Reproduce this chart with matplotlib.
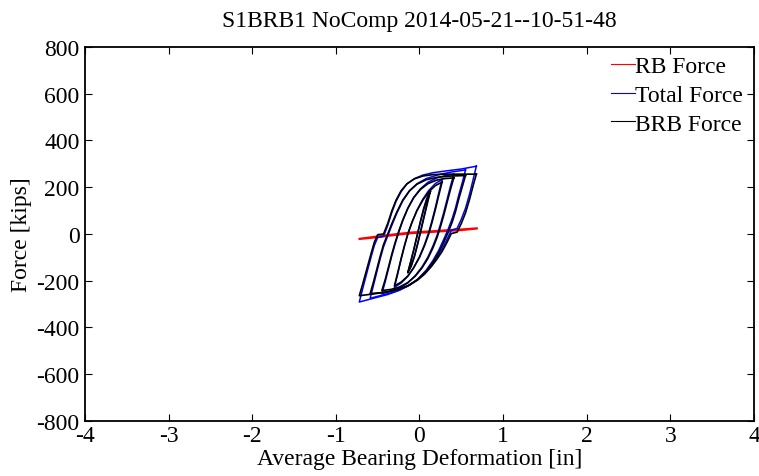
import matplotlib
matplotlib.use("Agg")
import matplotlib.pyplot as plt

plt.rcParams["font.family"] = ["Liberation Serif", "DejaVu Serif"]
plt.rcParams["axes.unicode_minus"] = False

# hysteresis cycles, one list per cycle (deformation in inches, force in kips)
loop_defl = [
    [0.13, 0.10, 0.06, 0.02, -0.02, -0.06, -0.10, -0.14,
     -0.11, -0.07, -0.03, 0.01, 0.05, 0.09, 0.13],
    [0.27, 0.23, 0.19, 0.15, 0.11, 0.06, 0.00, -0.07, -0.14, -0.22, -0.30,
     -0.26, -0.22, -0.18, -0.14, -0.09, -0.03, 0.04, 0.11, 0.19, 0.27],
    [0.41, 0.37, 0.33, 0.29, 0.25, 0.21, 0.16, 0.10, 0.03, -0.05, -0.14, -0.24, -0.34, -0.45,
     -0.41, -0.37, -0.33, -0.29, -0.25, -0.20, -0.14, -0.07, 0.01, 0.10, 0.20, 0.30, 0.41],
    [0.55, 0.51, 0.47, 0.43, 0.39, 0.34, 0.29, 0.23, 0.16, 0.08, -0.02, -0.14, -0.28, -0.43, -0.59,
     -0.55, -0.51, -0.47, -0.43, -0.38, -0.33, -0.27, -0.20, -0.12, -0.03, 0.08, 0.22, 0.38, 0.55],
    [0.68, 0.64, 0.60, 0.55, 0.50, 0.45, 0.38, 0.33, 0.27, 0.21, 0.14, 0.06, -0.02, -0.12,
     -0.24, -0.38, -0.54, -0.72,
     -0.68, -0.63, -0.58, -0.54, -0.50, -0.43, -0.38, -0.33, -0.28, -0.22, -0.15, -0.06,
     0.04, 0.16, 0.32, 0.50, 0.68],
]
brb_force = [
    [182, 140, 80, 20, -40, -95, -138, -165,
     -125, -70, -10, 50, 105, 150, 182],
    [222, 165, 105, 50, 0, -50, -100, -145, -180, -206, -222,
     -165, -105, -50, 0, 50, 100, 145, 180, 207, 222],
    [240, 190, 135, 80, 30, -15, -60, -105, -145, -180, -208, -227, -237, -242,
     -195, -140, -85, -35, 10, 60, 110, 155, 190, 215, 230, 237, 240],
    [250, 200, 150, 95, 50, 5, -35, -80, -122, -160, -195, -222, -240, -250, -255,
     -205, -150, -95, -45, 0, 45, 95, 145, 185, 213, 232, 243, 248, 250],
    [256, 205, 150, 90, 45, 8, 2, -35, -75, -107, -140, -172, -196, -218,
     -235, -247, -256, -264,
     -215, -150, -85, -35, -3, 0, 45, 100, 145, 185, 215, 236,
     248, 254, 256, 256, 256],
]
total_force = [
    [189, 146, 85, 24, -38, -94, -138, -166,
     -125, -69, -8, 53, 110, 156, 189],
    [233, 175, 114, 58, 6, -45, -97, -144, -181, -210, -228,
     -170, -109, -52, -1, 50, 102, 149, 186, 216, 233],
    [255, 204, 148, 92, 41, -6, -52, -99, -141, -178, -209, -231, -244, -256,
     -204, -148, -92, -41, 5, 57, 109, 156, 193, 221, 239, 249, 255],
    [274, 218, 167, 111, 65, 18, -23, -70, -114, -155, -193, -223, -245, -260, -275,
     -219, -162, -106, -55, -8, 38, 90, 142, 184, 215, 237, 253, 265, 274],
    [290, 231, 172, 110, 63, 24, 16, -22, -64, -98, -133, -167, -194, -219,
     -241, -259, -274, -291,
     -235, -167, -100, -49, -15, -10, 37, 93, 140, 181, 214, 237,
     252, 262, 270, 278, 290],
]

# restoring bearing force, a thin nearly linear loop
rb_defl = [-0.72, -0.50, -0.30, -0.10, 0.10, 0.30, 0.50, 0.69,
           0.69, 0.50, 0.30, 0.10, -0.10, -0.30, -0.50, -0.72]
rb_force = [-19, -9, 0, 8, 12, 17, 21, 26,
            22, 15, 11, 6, 2, -6, -15, -23]

title = "S1BRB1 NoComp 2014-05-21--10-51-48"
x_ticks = [-4, -3, -2, -1, 0, 1, 2, 3, 4]
y_ticks = [-800, -600, -400, -200, 0, 200, 400, 600, 800]

fig = plt.figure(figsize=(7.59, 4.77), dpi=100)
ax = fig.add_axes([0.112, 0.1153, 0.8814, 0.7841])

ax.plot(rb_defl, rb_force, color="red", lw=1.0, label="RB Force")
for i, (d, f) in enumerate(zip(loop_defl, total_force)):
    ax.plot(d, f, color="blue", lw=1.1, label="Total Force" if i == 0 else None)
for i, (d, f) in enumerate(zip(loop_defl, brb_force)):
    ax.plot(d, f, color="black", lw=1.2, label="BRB Force" if i == 0 else None)

ax.set_xlim(-4, 4)
ax.set_ylim(-800, 800)
ax.set_xticks(x_ticks)
ax.set_yticks(y_ticks)
ax.tick_params(direction="in", length=5, width=0.8, top=True, right=True, labelsize=17)
ax.tick_params(axis="x", pad=3)
ax.tick_params(axis="y", pad=4)
for s in ax.spines.values():
    s.set_linewidth(1.3)

ax.set_title(title, fontsize=17, pad=15)
ax.set_xlabel("Average Bearing Deformation [in]", fontsize=17, labelpad=1)
ax.set_ylabel("Force [kips]", fontsize=17, labelpad=3)

leg = ax.legend(loc="upper left", bbox_to_anchor=(0.776, 0.995), frameon=False, fontsize=17,
                handlelength=1.0, handletextpad=0.0, labelspacing=0.3,
                borderaxespad=0.1, borderpad=0.2)
for h in leg.get_lines():
    h.set_linewidth(0.8)

fig.savefig("out.png", dpi=100)
